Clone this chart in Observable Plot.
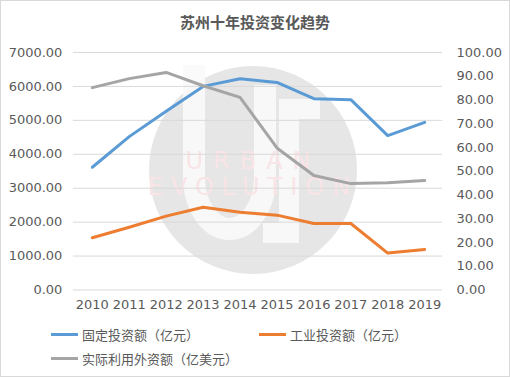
<!DOCTYPE html>
<html>
<head>
<meta charset="utf-8">
<script src="https://cdn.jsdelivr.net/npm/d3@7"></script>
<script src="https://cdn.jsdelivr.net/npm/@observablehq/plot@0.6"></script>
<style>
  html, body { margin: 0; padding: 0; background: #fff; }
  #wrap { position: relative; width: 508px; height: 375px; border: 1px solid #d9d9d9; background: #fff; overflow: hidden; font-family: "DejaVu Sans", sans-serif; }
  #title { position: absolute; left: 0; top: 10px; width: 508px; text-align: center; font: bold 15px "Noto Sans CJK SC", sans-serif; color: #595959; }
  #wm { position: absolute; left: 147px; top: 64px; width: 210px; height: 210px; }
  .wmt { position: absolute; left: -10px; width: 230px; text-align: center; font: 24px "DejaVu Sans", sans-serif; color: #f9e4e7; }
  #chart { position: absolute; left: -1px; top: 39px; }
  #legend { position: absolute; left: 0; top: 324px; width: 508px; font: 13px "Noto Sans CJK SC", sans-serif; color: #595959; }
  .item { position: absolute; display: flex; align-items: center; white-space: nowrap; }
  .sw { width: 27px; height: 3px; margin-right: 4px; }
</style>
</head>
<body>
<div id="wrap">
  <div id="wm">
    <svg width="210" height="210" viewBox="0 0 210 210">
      <circle cx="105" cy="105" r="104" fill="#e6e6e6"/>
      <path d="M46,0 V112 A35.5,52 0 0 0 117,112 V20" fill="none" stroke="#fafafa" stroke-width="22" opacity="0.9"/>
      <path d="M172,44 H141 V168 H115" fill="none" stroke="#fafafa" stroke-width="20" opacity="0.9"/>
    </svg>
    <div class="wmt" style="top:82px; letter-spacing: 10px;">URBAN</div>
    <div class="wmt" style="top:108px; letter-spacing: 8px;">EVOLUTION</div>
  </div>
  <div id="title">苏州十年投资变化趋势</div>
  <div id="chart"></div>
  <div id="legend"></div>
</div>
<script>
const years = ["2010","2011","2012","2013","2014","2015","2016","2017","2018","2019"];
const fixedInvest = [3617, 4520, 5265, 6000, 6226, 6118, 5637, 5610, 4550, 4940];
const industryInvest = [1540, 1850, 2176, 2441, 2294, 2206, 1960, 1960, 1088, 1196];
const foreignCapital = [85.2, 89.0, 91.6, 86.0, 81.1, 59.8, 48.2, 44.8, 45.2, 46.1];
const seriesNames = ["固定投资额（亿元）", "工业投资额（亿元）", "实际利用外资额（亿美元）"];
const colors = ["#5b9bd5", "#ed7d31", "#a5a5a5"];
const leftTicks = [0,1000,2000,3000,4000,5000,6000,7000];
const rightTicks = [0,10,20,30,40,50,60,70,80,90,100];
const ratio = 70; // right axis 0-100 mapped onto left 0-7000

const rows = [];
years.forEach((y, i) => {
  rows.push({year: y, value: fixedInvest[i], series: seriesNames[0]});
  rows.push({year: y, value: industryInvest[i], series: seriesNames[1]});
  rows.push({year: y, value: foreignCapital[i] * ratio, series: seriesNames[2]});
});

const chart = Plot.plot({
  width: 510,
  height: 276,
  marginLeft: 73,
  marginRight: 67,
  marginTop: 12,
  marginBottom: 26,
  style: { background: "transparent", fontFamily: "DejaVu Sans, sans-serif", fontSize: "13px", color: "#595959" },
  x: { type: "point", domain: years, padding: 0.5, label: null },
  y: { domain: [0, 7000], label: null },
  color: { domain: seriesNames, range: colors },
  marks: [
    Plot.gridY(leftTicks, { stroke: "#d9d9d9", strokeOpacity: 1, strokeWidth: 1 }),
    Plot.axisY(leftTicks, { anchor: "left", tickSize: 0, tickPadding: 11, tickFormat: d => d.toFixed(2), fill: "#595959", fontSize: 13 }),
    Plot.axisY(rightTicks.map(t => t * ratio), { anchor: "right", tickSize: 0, tickPadding: 14, tickFormat: d => (d / ratio).toFixed(2), fill: "#595959", fontSize: 13 }),
    Plot.axisX({ tickSize: 0, tickPadding: 10, fill: "#595959", fontSize: 13 }),
    Plot.line(rows, { x: "year", y: "value", z: "series", stroke: "series", strokeWidth: 3, strokeLinejoin: "round", strokeLinecap: "round" })
  ]
});
document.getElementById("chart").appendChild(chart);

const legend = document.getElementById("legend");
const pos = [[50, 0], [258, 0], [50, 24]];
seriesNames.forEach((n, i) => {
  const d = document.createElement("div");
  d.className = "item";
  d.style.left = pos[i][0] + "px";
  d.style.top = pos[i][1] + "px";
  d.innerHTML = `<span class="sw" style="background:${colors[i]}"></span><span>${n}</span>`;
  legend.appendChild(d);
});
</script>
</body>
</html>
